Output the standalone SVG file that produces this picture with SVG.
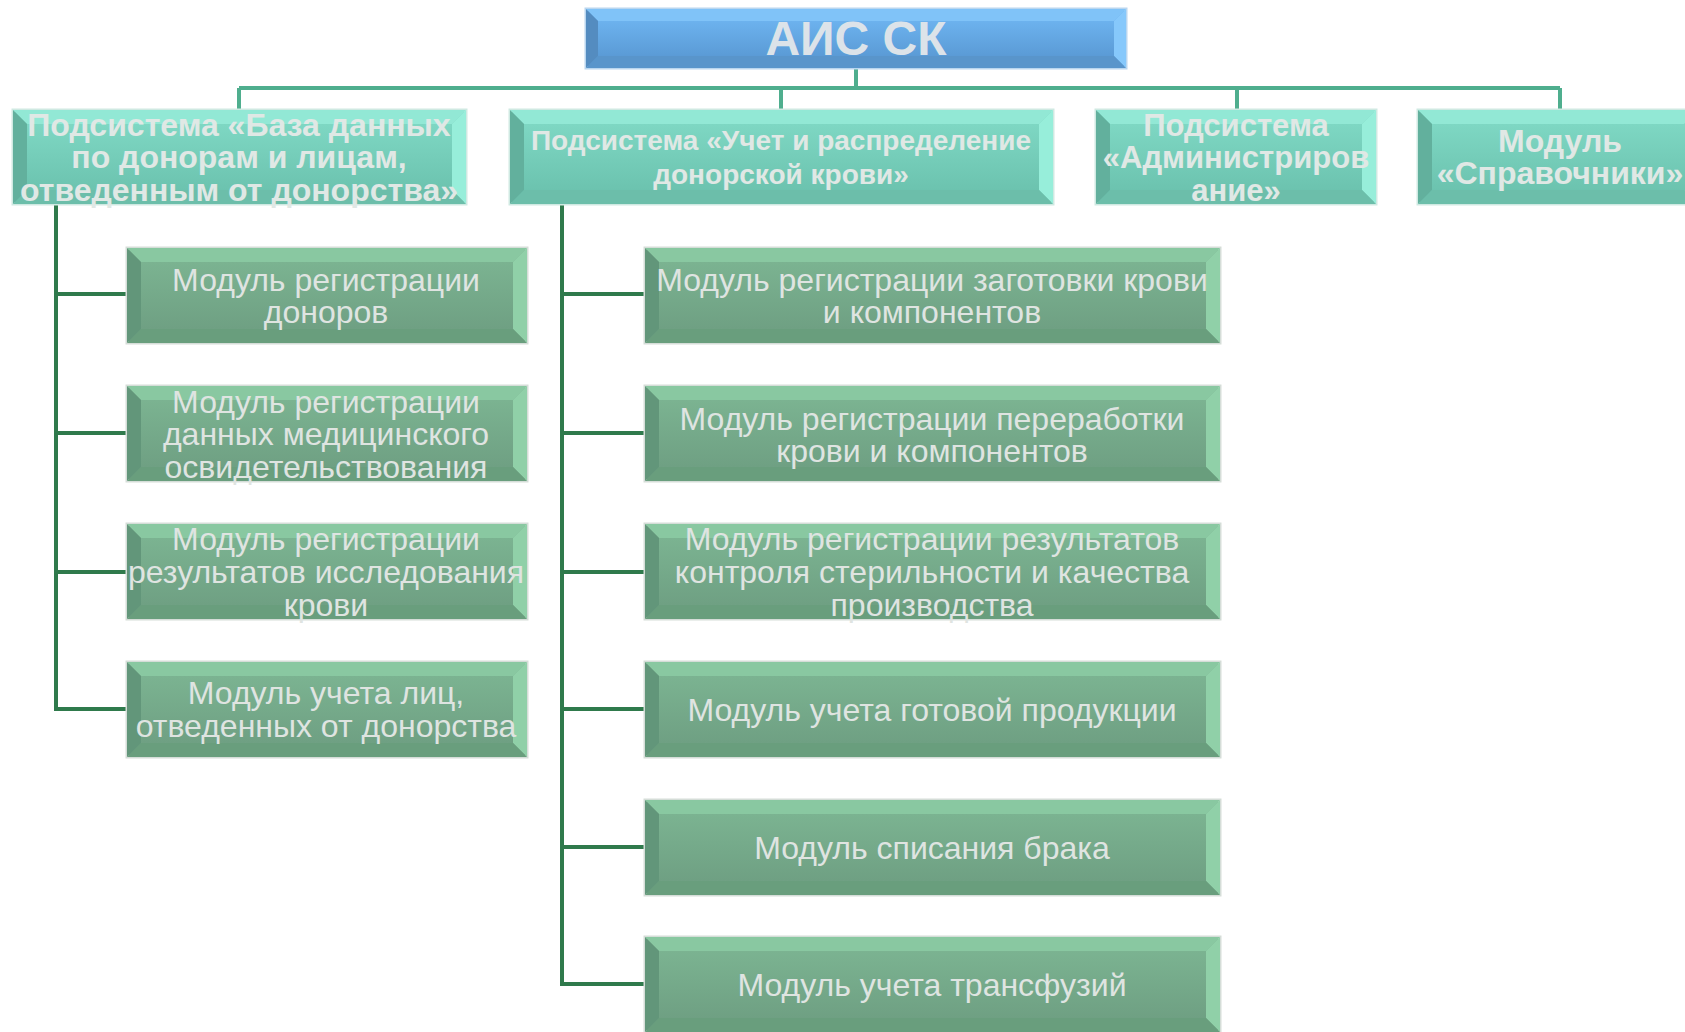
<svg xmlns="http://www.w3.org/2000/svg" width="1685" height="1032" viewBox="0 0 1685 1032">
<defs>
<linearGradient id="gMod" x1="0" y1="0" x2="0" y2="1">
<stop offset="0" stop-color="#7bb391"/><stop offset="1" stop-color="#6fa083"/>
</linearGradient>
<linearGradient id="gSub" x1="0" y1="0" x2="0" y2="1">
<stop offset="0" stop-color="#7ed7c3"/><stop offset="1" stop-color="#6cc3af"/>
</linearGradient>
<linearGradient id="gTop" x1="0" y1="0" x2="0" y2="1">
<stop offset="0" stop-color="#6cb2ee"/><stop offset="1" stop-color="#5b9bd6"/>
</linearGradient>
</defs>
<style>
text{font-family:"Liberation Sans",Arial,sans-serif;text-anchor:middle;}
.mod .base{fill:url(#gMod);stroke:#d5ddd8;stroke-width:3;}
.mod .bt{fill:#89c8a1;} .mod .br{fill:#90d0a8;} .mod .bb{fill:#699e7d;} .mod .bl{fill:#62967a;}
.sub .base{fill:url(#gSub);stroke:#cfe9e2;stroke-width:3;}
.sub .bt{fill:#92e8d5;} .sub .br{fill:#97eeda;} .sub .bb{fill:#6cbeaa;} .sub .bl{fill:#62b09d;}
.top .base{fill:url(#gTop);stroke:#b9d6ef;stroke-width:3;}
.top .bt{fill:#80c3f8;} .top .br{fill:#86c8fb;} .top .bb{fill:#5995cb;} .top .bl{fill:#548cc0;}
.mt{font-size:32px;fill:#dfe4e1;}
.st{font-weight:bold;fill:#e0e8e5;}
.tt{font-size:48px;font-weight:bold;fill:#dce3e9;}
.c1{stroke:#4fae8e;stroke-width:4;fill:none;}
.c2{stroke:#2f7a4c;stroke-width:4;fill:none;}
</style>

<g id="connectors">
<path class="c1" d="M856 68V88M239 88H1560M239 88V110M781 88V110M1237 88V110M1560 88V110"/>
<path class="c2" d="M56 204V709H127M56 294H127M56 433H127M56 572H127"/>
<path class="c2" d="M562 204V984H645M562 294H645M562 433H645M562 572H645M562 709H645M562 847H645"/>
</g>

<g id="root" class="top">
<rect class="base" x="586" y="9" width="540" height="59"/>
<polygon class="bt" points="586,9 1126,9 1114,21 598,21"/>
<polygon class="br" points="1126,9 1126,68 1114,56 1114,21"/>
<polygon class="bb" points="586,68 1126,68 1114,56 598,56"/>
<polygon class="bl" points="586,9 586,68 598,56 598,21"/>
<rect x="598" y="21" width="516" height="35" fill="url(#gTop)"/>
<text class="tt" x="856" y="55">АИС СК</text>
</g>

<g id="sub1" class="sub">
<rect class="base" x="13" y="110" width="453" height="94"/>
<polygon class="bt" points="13,110 466,110 452,124 27,124"/>
<polygon class="br" points="466,110 466,204 452,190 452,124"/>
<polygon class="bb" points="13,204 466,204 452,190 27,190"/>
<polygon class="bl" points="13,110 13,204 27,190 27,124"/>
<rect x="27" y="124" width="425" height="66" fill="url(#gSub)"/>
<text class="st" font-size="32" x="239" y="136">Подсистема «База данных</text>
<text class="st" font-size="32" x="239" y="168">по донорам и лицам,</text>
<text class="st" font-size="32" x="239" y="201">отведенным от донорства»</text>
</g>

<g id="sub2" class="sub">
<rect class="base" x="510" y="110" width="543" height="94"/>
<polygon class="bt" points="510,110 1053,110 1039,124 524,124"/>
<polygon class="br" points="1053,110 1053,204 1039,190 1039,124"/>
<polygon class="bb" points="510,204 1053,204 1039,190 524,190"/>
<polygon class="bl" points="510,110 510,204 524,190 524,124"/>
<rect x="524" y="124" width="515" height="66" fill="url(#gSub)"/>
<text class="st" font-size="28" x="781" y="150">Подсистема «Учет и распределение</text>
<text class="st" font-size="28" x="781" y="184">донорской крови»</text>
</g>

<g id="sub3" class="sub">
<rect class="base" x="1096" y="110" width="280" height="94"/>
<polygon class="bt" points="1096,110 1376,110 1362,124 1110,124"/>
<polygon class="br" points="1376,110 1376,204 1362,190 1362,124"/>
<polygon class="bb" points="1096,204 1376,204 1362,190 1110,190"/>
<polygon class="bl" points="1096,110 1096,204 1110,190 1110,124"/>
<rect x="1110" y="124" width="252" height="66" fill="url(#gSub)"/>
<text class="st" font-size="31" x="1236" y="136">Подсистема</text>
<text class="st" font-size="31" x="1236" y="168">«Администриров</text>
<text class="st" font-size="31" x="1236" y="201">ание»</text>
</g>

<g id="sub4" class="sub">
<rect class="base" x="1418" y="110" width="280" height="94"/>
<polygon class="bt" points="1418,110 1698,110 1684,124 1432,124"/>
<polygon class="bb" points="1418,204 1698,204 1684,190 1432,190"/>
<polygon class="bl" points="1418,110 1418,204 1432,190 1432,124"/>
<rect x="1432" y="124" width="260" height="66" fill="url(#gSub)"/>
<text class="st" font-size="32" x="1560" y="152">Модуль</text>
<text class="st" font-size="32" x="1560" y="184">«Справочники»</text>
</g>

<g id="l1" class="mod">
<rect class="base" x="127" y="248" width="400" height="95"/>
<polygon class="bt" points="127,248 527,248 513,262 141,262"/>
<polygon class="br" points="527,248 527,343 513,329 513,262"/>
<polygon class="bb" points="127,343 527,343 513,329 141,329"/>
<polygon class="bl" points="127,248 127,343 141,329 141,262"/>
<rect x="141" y="262" width="372" height="67" fill="url(#gMod)"/>
<text class="mt" x="326" y="291">Модуль регистрации</text>
<text class="mt" x="326" y="323">доноров</text>
</g>

<g id="l2" class="mod">
<rect class="base" x="127" y="386" width="400" height="95"/>
<polygon class="bt" points="127,386 527,386 513,400 141,400"/>
<polygon class="br" points="527,386 527,481 513,467 513,400"/>
<polygon class="bb" points="127,481 527,481 513,467 141,467"/>
<polygon class="bl" points="127,386 127,481 141,467 141,400"/>
<rect x="141" y="400" width="372" height="67" fill="url(#gMod)"/>
<text class="mt" x="326" y="413">Модуль регистрации</text>
<text class="mt" x="326" y="445">данных медицинского</text>
<text class="mt" x="326" y="478">освидетельствования</text>
</g>

<g id="l3" class="mod">
<rect class="base" x="127" y="524" width="400" height="95"/>
<polygon class="bt" points="127,524 527,524 513,538 141,538"/>
<polygon class="br" points="527,524 527,619 513,605 513,538"/>
<polygon class="bb" points="127,619 527,619 513,605 141,605"/>
<polygon class="bl" points="127,524 127,619 141,605 141,538"/>
<rect x="141" y="538" width="372" height="67" fill="url(#gMod)"/>
<text class="mt" x="326" y="550">Модуль регистрации</text>
<text class="mt" x="326" y="583">результатов исследования</text>
<text class="mt" x="326" y="616">крови</text>
</g>

<g id="l4" class="mod">
<rect class="base" x="127" y="662" width="400" height="95"/>
<polygon class="bt" points="127,662 527,662 513,676 141,676"/>
<polygon class="br" points="527,662 527,757 513,743 513,676"/>
<polygon class="bb" points="127,757 527,757 513,743 141,743"/>
<polygon class="bl" points="127,662 127,757 141,743 141,676"/>
<rect x="141" y="676" width="372" height="67" fill="url(#gMod)"/>
<text class="mt" x="326" y="704">Модуль учета лиц,</text>
<text class="mt" x="326" y="737">отведенных от донорства</text>
</g>

<g id="m1" class="mod">
<rect class="base" x="645" y="248" width="575" height="95"/>
<polygon class="bt" points="645,248 1220,248 1206,262 659,262"/>
<polygon class="br" points="1220,248 1220,343 1206,329 1206,262"/>
<polygon class="bb" points="645,343 1220,343 1206,329 659,329"/>
<polygon class="bl" points="645,248 645,343 659,329 659,262"/>
<rect x="659" y="262" width="547" height="67" fill="url(#gMod)"/>
<text class="mt" x="932" y="291">Модуль регистрации заготовки крови</text>
<text class="mt" x="932" y="323">и компонентов</text>
</g>

<g id="m2" class="mod">
<rect class="base" x="645" y="386" width="575" height="95"/>
<polygon class="bt" points="645,386 1220,386 1206,400 659,400"/>
<polygon class="br" points="1220,386 1220,481 1206,467 1206,400"/>
<polygon class="bb" points="645,481 1220,481 1206,467 659,467"/>
<polygon class="bl" points="645,386 645,481 659,467 659,400"/>
<rect x="659" y="400" width="547" height="67" fill="url(#gMod)"/>
<text class="mt" x="932" y="430">Модуль регистрации переработки</text>
<text class="mt" x="932" y="462">крови и компонентов</text>
</g>

<g id="m3" class="mod">
<rect class="base" x="645" y="524" width="575" height="95"/>
<polygon class="bt" points="645,524 1220,524 1206,538 659,538"/>
<polygon class="br" points="1220,524 1220,619 1206,605 1206,538"/>
<polygon class="bb" points="645,619 1220,619 1206,605 659,605"/>
<polygon class="bl" points="645,524 645,619 659,605 659,538"/>
<rect x="659" y="538" width="547" height="67" fill="url(#gMod)"/>
<text class="mt" x="932" y="550">Модуль регистрации результатов</text>
<text class="mt" x="932" y="583">контроля стерильности и качества</text>
<text class="mt" x="932" y="616">производства</text>
</g>

<g id="m4" class="mod">
<rect class="base" x="645" y="662" width="575" height="95"/>
<polygon class="bt" points="645,662 1220,662 1206,676 659,676"/>
<polygon class="br" points="1220,662 1220,757 1206,743 1206,676"/>
<polygon class="bb" points="645,757 1220,757 1206,743 659,743"/>
<polygon class="bl" points="645,662 645,757 659,743 659,676"/>
<rect x="659" y="676" width="547" height="67" fill="url(#gMod)"/>
<text class="mt" x="932" y="721">Модуль учета готовой продукции</text>
</g>

<g id="m5" class="mod">
<rect class="base" x="645" y="800" width="575" height="95"/>
<polygon class="bt" points="645,800 1220,800 1206,814 659,814"/>
<polygon class="br" points="1220,800 1220,895 1206,881 1206,814"/>
<polygon class="bb" points="645,895 1220,895 1206,881 659,881"/>
<polygon class="bl" points="645,800 645,895 659,881 659,814"/>
<rect x="659" y="814" width="547" height="67" fill="url(#gMod)"/>
<text class="mt" x="932" y="859">Модуль списания брака</text>
</g>

<g id="m6" class="mod">
<rect class="base" x="645" y="937" width="575" height="95"/>
<polygon class="bt" points="645,937 1220,937 1206,951 659,951"/>
<polygon class="br" points="1220,937 1220,1032 1206,1018 1206,951"/>
<polygon class="bb" points="645,1032 1220,1032 1206,1018 659,1018"/>
<polygon class="bl" points="645,937 645,1032 659,1018 659,951"/>
<rect x="659" y="951" width="547" height="67" fill="url(#gMod)"/>
<text class="mt" x="932" y="996">Модуль учета трансфузий</text>
</g>
</svg>
